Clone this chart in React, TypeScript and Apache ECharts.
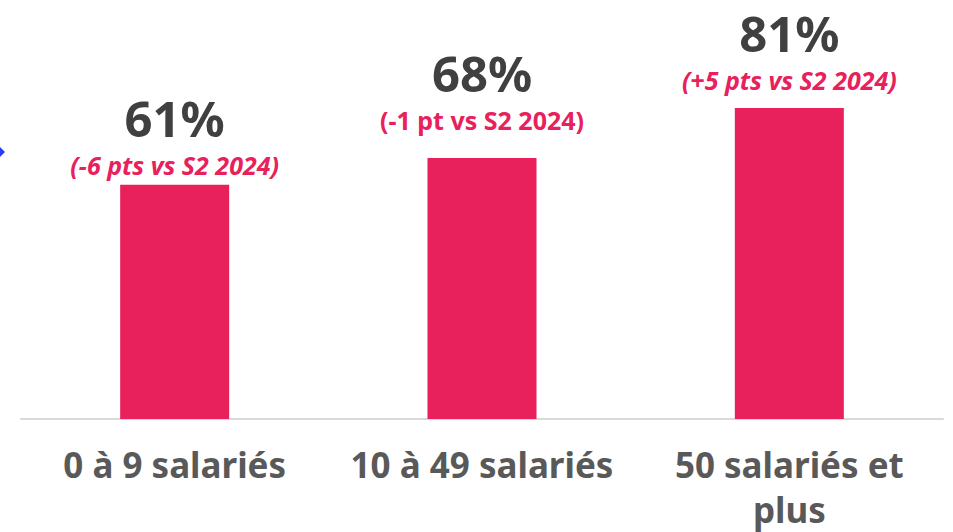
import React, { useEffect, useRef } from "react";
import * as echarts from "echarts";

const categories = ["0 à 9 salariés", "10 à 49 salariés", "50 salariés et plus"];
const values = [61, 68, 81];
const deltas = ["-6 pts", "-1 pt", "+5 pts"];
const reference = "S2 2024";

export default function App() {
  const ref = useRef<HTMLDivElement>(null);
  useEffect(() => {
    const chart = echarts.init(ref.current!, undefined, { renderer: "svg" });
    const font = "'Noto Sans', sans-serif";
    const labelDistances = [9, 27, 17];
    const subStyles = ["b", "c", "b"];
    chart.setOption({
      animation: false,
      textStyle: { fontFamily: font },
      grid: { left: 21, right: 10, top: 35, bottom: 111 },
      xAxis: {
        type: "category",
        data: categories,
        axisLine: { lineStyle: { color: "#d9d9d9", width: 2 } },
        axisTick: { show: false },
        axisLabel: {
          interval: 0,
          margin: 23,
          fontSize: 35,
          fontWeight: "bold",
          color: "#595959",
          lineHeight: 45,
          fontFamily: font,
          formatter: (v: string) => v.replace(" et plus", " et\nplus"),
        },
      },
      yAxis: { type: "value", min: 0, max: 100, show: false, splitLine: { show: false } },
      graphic: [
        {
          type: "polygon",
          shape: { points: [[0, 147], [5, 152], [0, 157], [-5, 152]] },
          style: { fill: "#2f3cf5" },
        },
      ],
      series: [
        {
          type: "bar",
          data: values.map((v, i) => ({ value: v, label: { distance: labelDistances[i] } })),
          barWidth: 109,
          itemStyle: { color: "#E8205B" },
          label: {
            show: true,
            position: "top",
            distance: 5,
            formatter: (p: any) =>
              `{a|${p.value}%}\n{${subStyles[p.dataIndex]}|(${deltas[p.dataIndex]} vs ${reference})}`,
            rich: {
              a: { fontSize: 49, fontWeight: "bold", color: "#404040", lineHeight: 56, fontFamily: font },
              b: { fontSize: 25, fontWeight: "bold", fontStyle: "italic", color: "#E8205B", lineHeight: 30, padding: [8, 0, 0, 0], fontFamily: font },
              c: { fontSize: 25, fontWeight: "bold", color: "#E8205B", lineHeight: 30, padding: [8, 0, 0, 0], fontFamily: font },
            },
          },
        },
      ],
    });
    return () => chart.dispose();
  }, []);
  return <div ref={ref} style={{ width: 953, height: 532, position: "absolute", left: 0, top: 0 }} />;
}
